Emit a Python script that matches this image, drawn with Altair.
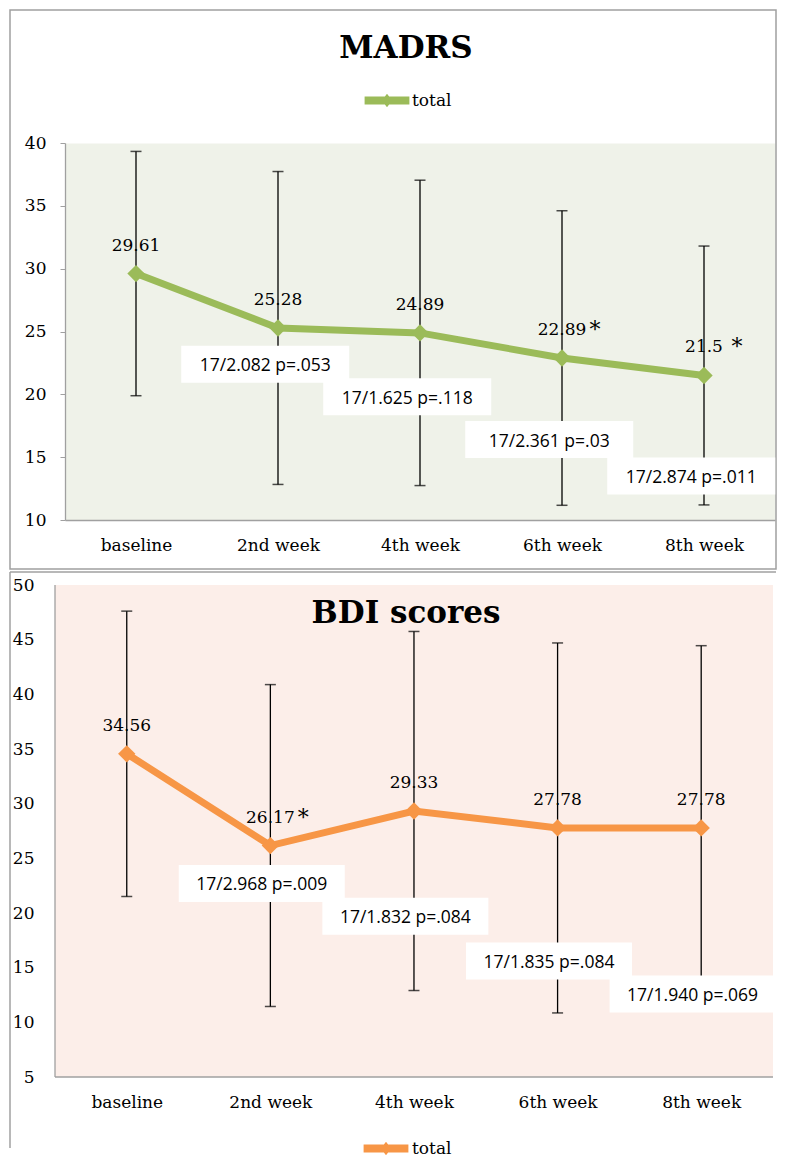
import json
import altair as alt
import pandas as pd

# ---------------- data ----------------
categories = ["baseline", "2nd week", "4th week", "6th week", "8th week"]
series_name = "total"
titles = ["MADRS", "BDI scores"]

madrs_mean = [29.61, 25.28, 24.89, 22.89, 21.5]
madrs_sd = [9.72, 12.45, 12.15, 11.72, 10.30]
madrs_star = ["", "", "", "*", "*"]
madrs_stats = ["17/2.082 p=.053", "17/1.625 p=.118", "17/2.361 p=.03", "17/2.874 p=.011"]
madrs_stats_y = [22.4, 19.8, 16.4, 13.5]

bdi_mean = [34.56, 26.17, 29.33, 27.78, 27.78]
bdi_sd = [13.05, 14.72, 16.42, 16.92, 16.67]
bdi_star = ["", "*", "", "", ""]
bdi_stats = ["17/2.968 p=.009", "17/1.832 p=.084", "17/1.835 p=.084", "17/1.940 p=.069"]
bdi_stats_y = [22.7, 19.7, 15.6, 12.6]

# ---------------- style ----------------
FONT_SERIF = "DejaVu Serif"
FONT_SANS = "Open Sans"
GRAY = "#A0A0A0"
GREEN = "#9BBB59"
ORANGE = "#F79646"
BG_TOP = "#EFF2E9"
BG_BOT = "#FCEEE9"
LEGEND_PATH = "M-2.8,-0.5L2.8,-0.5L2.8,0.5L-2.8,0.5Z M-0.65,0L0,-0.85L0.65,0L0,0.85Z"

tick_pos = [i + 0.5 for i in range(len(categories))]
label_expr = "[" + ",".join(json.dumps(c) for c in categories) + "][round(datum.value - 0.5)]"


def build(title, means, sds, stars, stats, stats_y, color, ydom, xdom, show_domain,
          yticks, ylab_pad, title_xy, legend_xy, legend_off, box_shift, box_w):
    df = pd.DataFrame({
        "week": categories,
        "pos": tick_pos,
        "mean": means,
        "lo": [m - s for m, s in zip(means, sds)],
        "hi": [m + s for m, s in zip(means, sds)],
        "label": [f"{m:g}" for m in means],
        "star": stars,
        "series": [series_name] * len(categories),
        "shp": ["d"] * len(categories),
    })
    sdf = pd.DataFrame({"pos": tick_pos[1:], "y": stats_y, "text": stats})

    xs = alt.Scale(domain=xdom, nice=False, zero=False)
    ys = alt.Scale(domain=ydom, nice=False, zero=False)
    xaxis = alt.Axis(values=tick_pos, labelExpr=label_expr, title=None, grid=False,
                     ticks=False, domain=show_domain, domainColor=GRAY, domainWidth=1.3,
                     labelFont=FONT_SERIF, labelFontSize=17, labelColor="black",
                     labelPadding=17)
    yaxis = alt.Axis(values=list(range(ydom[0], ydom[1] + 1, 5)), title=None, grid=False,
                     ticks=yticks, tickSize=5, tickColor=GRAY, domain=show_domain,
                     domainColor=GRAY, domainWidth=1.3, labelFont=FONT_SERIF,
                     labelFontSize=17, labelColor="black", labelPadding=ylab_pad)
    X = alt.X("pos:Q", scale=xs, axis=xaxis)
    base = alt.Chart(df)

    err = base.mark_rule(color="black", strokeWidth=1.3).encode(
        x=X, y=alt.Y("lo:Q", scale=ys, axis=yaxis), y2="hi:Q")
    cap_lo = base.mark_tick(orient="horizontal", color="black", size=11, thickness=1.5).encode(
        x=X, y="lo:Q")
    cap_hi = base.mark_tick(orient="horizontal", color="black", size=11, thickness=1.5).encode(
        x=X, y="hi:Q")
    line = base.mark_line(color=color, strokeWidth=7).encode(x=X, y="mean:Q")
    pts = base.mark_point(filled=True, opacity=1, size=300).encode(
        x=X, y="mean:Q",
        color=alt.Color("series:N", scale=alt.Scale(domain=[series_name], range=[color]),
                        legend=alt.Legend(title=None, orient="none",
                                          legendX=legend_xy[0], legendY=legend_xy[1],
                                          symbolType=LEGEND_PATH, symbolSize=256,
                                          symbolOpacity=1, symbolStrokeWidth=0,
                                          labelFont=FONT_SERIF, labelFontSize=17,
                                          labelColor="black", labelOffset=legend_off,
                                          padding=0)),
        shape=alt.Shape("shp:N", scale=alt.Scale(domain=["d"], range=["diamond"]), legend=None),
    )
    boxes = alt.Chart(sdf).transform_calculate(bx=f"datum.pos + ({box_shift})").mark_rect(
        color="white", width=box_w, height=37).encode(x=alt.X("bx:Q", scale=xs), y="y:Q")
    boxtext = alt.Chart(sdf).transform_calculate(bx=f"datum.pos + ({box_shift})").mark_text(
        font=FONT_SANS, fontSize=17.5, color="black", dy=2).encode(
        x=alt.X("bx:Q", scale=xs), y="y:Q", text="text:N")
    labels = base.mark_text(font=FONT_SERIF, fontSize=17, color="black", dy=-28).encode(
        x=X, y="mean:Q", text="label:N")
    starsl = base.mark_text(font=FONT_SERIF, fontSize=22, color="black", dy=-28, dx=33).encode(
        x=X, y="mean:Q", text="star:N")
    ttl = alt.Chart(pd.DataFrame({"t": [title]})).mark_text(
        font=FONT_SERIF, fontSize=31, fontWeight="bold", align="center",
        baseline="alphabetic", color="black").encode(
        text="t:N", x=alt.value(title_xy[0]), y=alt.value(title_xy[1]))
    return [err, cap_lo, cap_hi, line, pts, boxes, boxtext, labels, starsl, ttl]


one = pd.DataFrame({"f": [1]})

# ---------- top panel ----------
top_frame = alt.Chart(one).mark_rect(fillOpacity=0, stroke=GRAY, strokeWidth=1.5).encode(
    x=alt.value(-55), x2=alt.value(711), y=alt.value(-133), y2=alt.value(426))
top_layers = build(titles[0], madrs_mean, madrs_sd, madrs_star, madrs_stats, madrs_stats_y,
                   GREEN, [10, 40], [0, 5], True, True, 14, (341, -85), (313.5, -51), 16.5,
                   -0.09, 168)
top = alt.layer(top_frame, *top_layers).properties(
    width=710, height=377, view=alt.ViewBackground(fill=BG_TOP, strokeOpacity=0))

# ---------- bottom panel ----------
bot_top = alt.Chart(one).mark_rule(color=GRAY, strokeWidth=1.5).encode(
    x=alt.value(-55), x2=alt.value(711), y=alt.value(-13))
bot_left = alt.Chart(one).mark_rule(color=GRAY, strokeWidth=1.5).encode(
    x=alt.value(-55), y=alt.value(-13), y2=alt.value(563))
bot_bg = alt.Chart(one).mark_rect(color=BG_BOT).encode(
    x=alt.value(-10), x2=alt.value(708), y=alt.value(0), y2=alt.value(492))
bot_xdom = alt.Chart(one).mark_rule(color=GRAY, strokeWidth=1.3).encode(
    x=alt.value(-10), x2=alt.value(708), y=alt.value(492))
bot_ydom = alt.Chart(one).mark_rule(color=GRAY, strokeWidth=1.3).encode(
    x=alt.value(-10), y=alt.value(0), y2=alt.value(492))
bot_layers = build(titles[1], bdi_mean, bdi_sd, bdi_star, bdi_stats, bdi_stats_y,
                   ORANGE, [5, 50], [0.07, 5], False, False, 31, (341, 38), (312.5, 555), 17.5,
                   -0.06, 166)
bottom = alt.layer(bot_bg, bot_xdom, bot_ydom, bot_top, bot_left, *bot_layers).properties(
    width=708, height=492, view=alt.ViewBackground(fill="white", strokeOpacity=0))

chart = alt.vconcat(top, bottom, spacing=1).resolve_scale(
    x="independent", y="independent", color="independent", shape="independent"
).properties(padding={"left": 1, "top": 1, "right": 0, "bottom": 0})

chart.save("out.html", embed_options={"renderer": "svg", "actions": False})
